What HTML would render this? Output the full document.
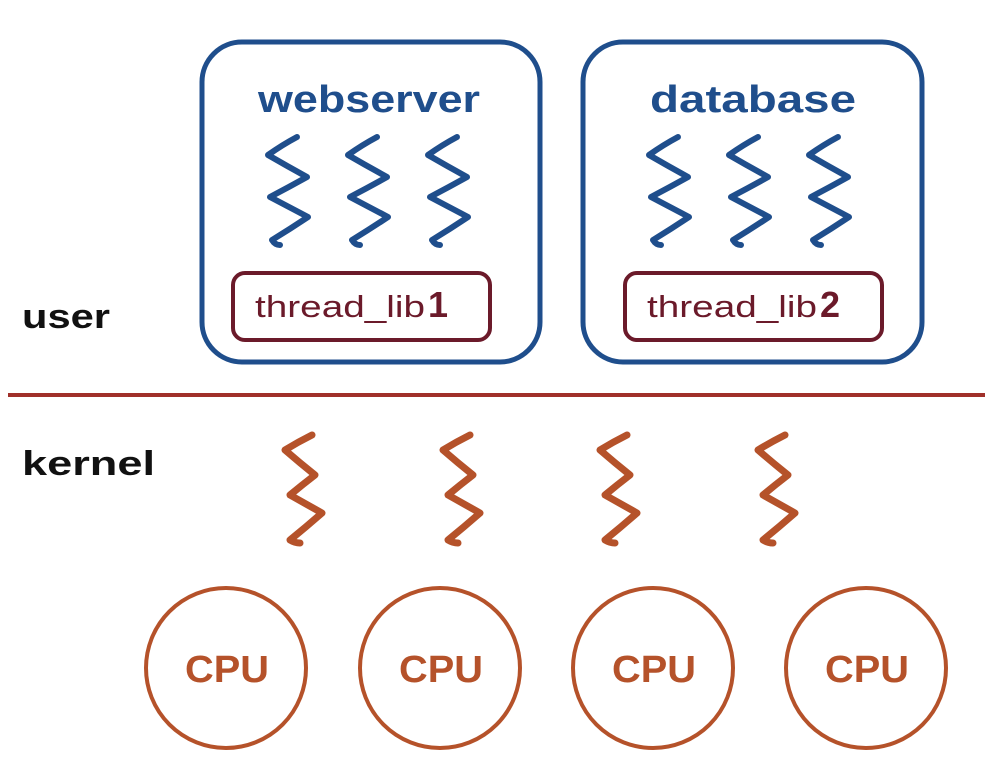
<!DOCTYPE html>
<html><head><meta charset="utf-8"><style>
html,body{margin:0;padding:0;background:#fff;}
svg{display:block;}
</style></head><body>
<svg width="986" height="784" viewBox="0 0 986 784" xmlns="http://www.w3.org/2000/svg" font-family="'Liberation Sans', sans-serif">
<defs>
<path id="sq" d="M0,0 Q-15,8 -29,18 Q-10,29 10,40 Q-8,50 -27,60 Q-8,70 11,80 Q-7,92 -25,103 Q-22,108 -17,108" fill="none" stroke-width="6" stroke-linecap="round" stroke-linejoin="round"/>
<path id="sqo" d="M0,0 Q-14,7 -27,15 Q-12,28 3,40 Q-10,50 -22,60 Q-6,69 10,78 Q-6,92 -22,105 Q-17,108 -12,108" fill="none" stroke-width="7" stroke-linecap="round" stroke-linejoin="round"/>
</defs>
<rect x="202" y="42" width="338" height="320" rx="40" fill="none" stroke="#1f4e8c" stroke-width="5"/>
<rect x="583" y="42" width="339" height="320" rx="40" fill="none" stroke="#1f4e8c" stroke-width="5"/>
<text x="258" y="112" textLength="222" lengthAdjust="spacingAndGlyphs" font-size="38" font-weight="bold" fill="#1f4e8c">webserver</text>
<text x="650" y="112" textLength="206" lengthAdjust="spacingAndGlyphs" font-size="38" font-weight="bold" fill="#1f4e8c">database</text>
<g stroke="#1f4e8c">
<use href="#sq" x="297" y="137"/><use href="#sq" x="377" y="137"/><use href="#sq" x="457" y="137"/>
<use href="#sq" x="678" y="137"/><use href="#sq" x="758" y="137"/><use href="#sq" x="838" y="137"/>
</g>
<rect x="233" y="273" width="257" height="67" rx="12" fill="none" stroke="#6b1a2a" stroke-width="4"/>
<rect x="625" y="273" width="257" height="67" rx="12" fill="none" stroke="#6b1a2a" stroke-width="4"/>
<text x="255" y="317" font-size="31" fill="#6b1a2a"><tspan textLength="170" lengthAdjust="spacingAndGlyphs">thread_lib</tspan><tspan font-weight="bold" font-size="36" dx="3">1</tspan></text>
<text x="647" y="317" font-size="31" fill="#6b1a2a"><tspan textLength="170" lengthAdjust="spacingAndGlyphs">thread_lib</tspan><tspan font-weight="bold" font-size="36" dx="3">2</tspan></text>
<text x="22" y="328" font-size="34" font-weight="bold" fill="#111" textLength="88" lengthAdjust="spacingAndGlyphs">user</text>
<line x1="8" y1="395" x2="985" y2="395" stroke="#a0302a" stroke-width="4"/>
<text x="22" y="475" font-size="34" font-weight="bold" fill="#111" textLength="133" lengthAdjust="spacingAndGlyphs">kernel</text>
<g stroke="#b5522a">
<use href="#sqo" x="312" y="435"/><use href="#sqo" x="470" y="435"/><use href="#sqo" x="627" y="435"/><use href="#sqo" x="785" y="435"/>
</g>
<g fill="none" stroke="#b5522a" stroke-width="4">
<circle cx="226" cy="668" r="80"/><circle cx="440" cy="668" r="80"/><circle cx="653" cy="668" r="80"/><circle cx="866" cy="668" r="80"/>
</g>
<g font-size="38" font-weight="bold" fill="#b5522a">
<text x="185" y="682" textLength="84" lengthAdjust="spacingAndGlyphs">CPU</text><text x="399" y="682" textLength="84" lengthAdjust="spacingAndGlyphs">CPU</text><text x="612" y="682" textLength="84" lengthAdjust="spacingAndGlyphs">CPU</text><text x="825" y="682" textLength="84" lengthAdjust="spacingAndGlyphs">CPU</text>
</g>
</svg>
</body></html>
